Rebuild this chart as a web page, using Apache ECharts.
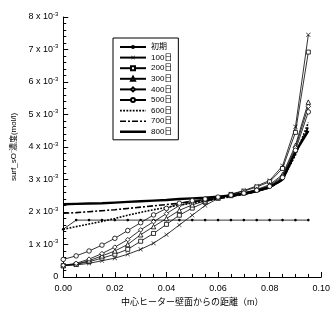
<!DOCTYPE html>
<html>
<head>
<meta charset="utf-8">
<script src="https://cdn.jsdelivr.net/npm/echarts@6/dist/echarts.min.js"></script>
<style>
  html, body { margin: 0; padding: 0; background: #fff; }
  #chart { width: 333px; height: 312px; }
</style>
</head>
<body>
<div id="chart"></div>
<script>
// distance from heater wall (m)
const dist = [0, 0.005, 0.01, 0.015, 0.02, 0.025, 0.03, 0.035, 0.04, 0.045,
  0.05, 0.055, 0.06, 0.065, 0.07, 0.075, 0.08, 0.085, 0.09, 0.095];

// concentration, x 10^-3 mol/l
const d0   = [1.47, 1.75, 1.75, 1.75, 1.75, 1.75, 1.75, 1.75, 1.75, 1.75,
  1.75, 1.75, 1.75, 1.75, 1.75, 1.75, 1.75, 1.75, 1.75, 1.75];
const d100 = [0.35, 0.37, 0.42, 0.5, 0.58, 0.7, 0.85, 1.04, 1.3, 1.6,
  1.9, 2.2, 2.42, 2.55, 2.66, 2.8, 2.97, 3.42, 4.62, 7.45];
const d200 = [0.35, 0.39, 0.47, 0.58, 0.7, 0.85, 1.1, 1.34, 1.62, 1.9,
  2.12, 2.3, 2.44, 2.54, 2.64, 2.77, 2.93, 3.34, 4.45, 6.92];
const d300 = [0.35, 0.4, 0.5, 0.65, 0.8, 1.0, 1.3, 1.55, 1.8, 2.05,
  2.22, 2.34, 2.43, 2.51, 2.59, 2.69, 2.84, 3.15, 4.05, 5.38];
const d400 = [0.36, 0.42, 0.55, 0.72, 0.92, 1.15, 1.45, 1.7, 1.95, 2.2,
  2.3, 2.38, 2.45, 2.52, 2.59, 2.68, 2.81, 3.1, 3.98, 5.25];
const d500 = [0.54, 0.65, 0.8, 0.98, 1.19, 1.43, 1.67, 1.91, 2.11, 2.27,
  2.35, 2.4, 2.46, 2.52, 2.58, 2.67, 2.79, 3.06, 3.9, 5.08];
const d600 = [1.47, 1.55, 1.63, 1.71, 1.8, 1.9, 1.99, 2.07, 2.14, 2.21,
  2.27, 2.34, 2.41, 2.48, 2.55, 2.64, 2.76, 3.0, 3.75, 4.75];
const d700 = [1.96, 1.98, 2.01, 2.04, 2.07, 2.11, 2.15, 2.19, 2.23, 2.27,
  2.32, 2.36, 2.41, 2.47, 2.54, 2.63, 2.75, 2.98, 3.8, 4.62];
const d800 = [2.24, 2.25, 2.26, 2.27, 2.29, 2.31, 2.33, 2.35, 2.37, 2.4,
  2.42, 2.44, 2.47, 2.51, 2.56, 2.64, 2.76, 3.0, 3.85, 4.5];

const names = ["初期", "100日", "200日", "300日", "400日", "500日", "600日", "700日", "800日"];
const xTicks = ["0.00", "0.02", "0.04", "0.06", "0.08", "0.10"];

const font = "'Liberation Sans', 'Noto Sans CJK JP', sans-serif";
const cross = "path://M0,0.8L0.8,0L5,4.2L9.2,0L10,0.8L5.8,5L10,9.2L9.2,10L5,5.8L0.8,10L0,9.2L4.2,5Z";

// legend line icons (26 x 5 box, tiny corner marks fix the bounds)
const LW = 26, LH = 5;
function strokes(pattern, y0, y1) {
  let p = "path://M0,0L0.05,0L0,0.05Z M" + LW + "," + LH + "L" + (LW - 0.05) + "," + LH + "L" + LW + "," + (LH - 0.05) + "Z";
  let x = 0, k = 0;
  while (x < LW) {
    const w = Math.min(pattern[k % pattern.length], LW - x);
    if (k % 2 === 0) p += " M" + x + "," + y0 + "H" + (x + w) + "V" + y1 + "H" + x + "Z";
    x += pattern[k % pattern.length];
    k++;
  }
  return p;
}
const iconDot = strokes([1.8, 1.4], 1.7, 3.3);
const iconDashDot = strokes([6, 2, 2, 2], 1.7, 3.3);
const iconThick = strokes([LW, 1], 1.3, 3.7);

function pts(arr) {
  return arr.map((v, i) => [dist[i], v]);
}

function mk(name, data, symbol, size, fill, line, bw) {
  return {
    name: name,
    type: "line",
    data: pts(data),
    symbol: symbol,
    symbolSize: size,
    showAllSymbol: true,
    silent: true,
    animation: false,
    lineStyle: Object.assign({ color: "#000", width: 0.8 }, line || {}),
    itemStyle: { color: fill, borderColor: "#000", borderWidth: bw === undefined ? 0.8 : bw },
  };
}

const chart = echarts.init(document.getElementById("chart"), null, { renderer: "canvas" });

chart.setOption({
  backgroundColor: "#fff",
  textStyle: { fontFamily: font },
  grid: { left: 55, right: 9, top: 17, bottom: 35 },
  legend: {
    orient: "vertical",
    left: 113,
    top: 38,
    padding: [5, 6, 4, 6],
    borderColor: "#000",
    borderWidth: 1,
    itemWidth: LW,
    itemHeight: LH,
    itemGap: 2.6,
    symbolKeepAspect: false,
    textStyle: { fontSize: 8, color: "#000", fontFamily: font },
    data: [
      { name: names[0] }, { name: names[1] }, { name: names[2] },
      { name: names[3] }, { name: names[4] }, { name: names[5] },
      { name: names[6], icon: iconDot },
      { name: names[7], icon: iconDashDot },
      { name: names[8], icon: iconThick },
    ],
  },
  xAxis: {
    type: "value",
    min: 0,
    max: 0.1,
    interval: 0.02,
    name: "中心ヒーター壁面からの距離（m）",
    nameLocation: "middle",
    nameGap: 21,
    nameTextStyle: { fontSize: 9, color: "#000", fontFamily: font },
    axisLine: { lineStyle: { color: "#000", width: 1 } },
    axisTick: { inside: true, length: 5, lineStyle: { color: "#000" } },
    minorTick: { show: true, splitNumber: 4, length: 3, lineStyle: { color: "#000" } },
    splitLine: { show: false },
    axisLabel: {
      fontSize: 9, color: "#000", margin: 7,
      formatter: (v) => xTicks[Math.round(v / 0.02)],
    },
  },
  yAxis: {
    type: "value",
    min: 0,
    max: 8,
    interval: 1,
    name: "surf_sO{s|-}濃度(mol/l)",
    nameLocation: "middle",
    nameGap: 42,
    nameTextStyle: {
      fontSize: 8, color: "#000", fontFamily: font,
      rich: { s: { fontSize: 6, verticalAlign: "top", padding: [0, 0, 5, 0] } },
    },
    axisLine: { show: true, lineStyle: { color: "#000", width: 1 } },
    axisTick: { show: true, inside: true, length: 5, lineStyle: { color: "#000" } },
    minorTick: { show: true, splitNumber: 5, length: 3, lineStyle: { color: "#000" } },
    splitLine: { show: false },
    axisLabel: {
      margin: 5,
      formatter: (v) => (v === 0 ? "{a|0}" : "{a|" + v + " x 10}{s|-3}"),
      rich: {
        a: { fontSize: 9, color: "#000", fontFamily: font },
        s: { fontSize: 6, color: "#000", fontFamily: font, padding: [0, 0, 6, 0] },
      },
    },
  },
  series: [
    mk(names[0], d0, "circle", 2.6, "#000", null, 0),
    mk(names[1], d100, cross, 4.5, "#000", null, 0),
    mk(names[2], d200, "rect", 4, "#fff"),
    mk(names[3], d300, "triangle", 4.5, "#fff"),
    mk(names[4], d400, "diamond", 4.5, "#fff"),
    mk(names[5], d500, "circle", 4.5, "#fff"),
    mk(names[6], d600, "none", 0, "#000", { width: 1.6, type: [1.8, 1.4] }, 0),
    mk(names[7], d700, "none", 0, "#000", { width: 1.6, type: [6, 2, 2, 2] }, 0),
    mk(names[8], d800, "none", 0, "#000", { width: 2.4 }, 0),
  ],
});
</script>
</body>
</html>
